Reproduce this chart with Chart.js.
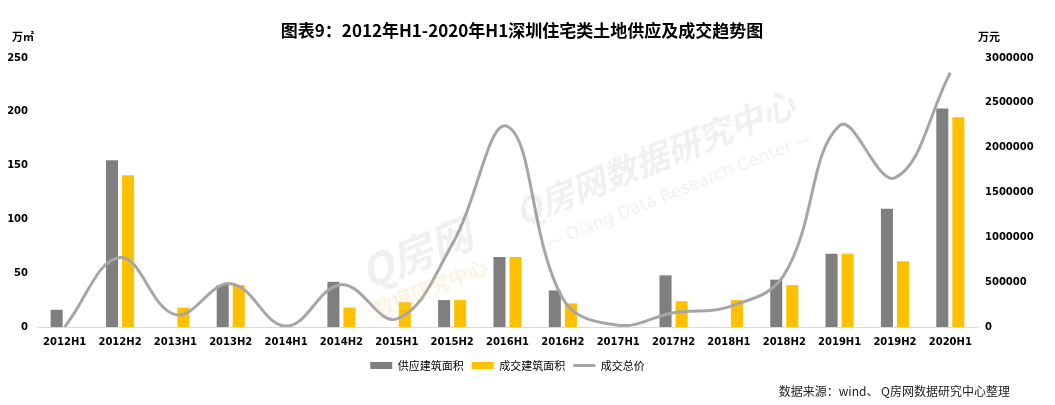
<!DOCTYPE html>
<html>
<head>
<meta charset="utf-8">
<script src="https://cdn.jsdelivr.net/npm/chart.js@4.4.1/dist/chart.umd.min.js"></script>
<style>
html,body{margin:0;padding:0;background:#fff;}
#wrap{width:1055px;height:405px;position:relative;}
</style>
</head>
<body>
<div id="wrap"><canvas id="c" width="1055" height="405"></canvas></div>
<script>
const categories = ['2012H1','2012H2','2013H1','2013H2','2014H1','2014H2','2015H1','2015H2','2016H1','2016H2','2017H1','2017H2','2018H1','2018H2','2019H1','2019H2','2020H1'];
const supplyArea = [16, 155, 0, 39, 0, 42, 0, 25, 65, 34, 0, 48, 0, 44, 68, 110, 203];
const dealArea = [0, 141, 18, 39, 0, 18, 23, 25, 65, 22, 0, 24, 25, 39, 68, 61, 195];
const dealTotal = [0, 775000, 138000, 483000, 10000, 472000, 90000, 921000, 2236000, 315000, 20000, 160000, 225000, 584000, 2247000, 1663000, 2835000];
const leftTicks = [0, 50, 100, 150, 200, 250];
const rightTicks = [0, 500000, 1000000, 1500000, 2000000, 2500000, 3000000];
const seriesNames = ['供应建筑面积', '成交建筑面积', '成交总价'];
const titleText = '图表9：2012年H1-2020年H1深圳住宅类土地供应及成交趋势图';
const sourceText = '数据来源：wind、 Q房网数据研究中心整理';

const CJK = '"Noto Sans CJK SC", "Noto Sans", sans-serif';
const TICKF = '"DejaVu Sans", sans-serif';

const decor = {
  id: 'decor',
  afterDatasetsDraw(chart) {
    const ctx = chart.ctx;
    ctx.save();
    ctx.translate(655, 158);
    ctx.rotate(-22 * Math.PI / 180);
    ctx.textAlign = 'center';
    ctx.textBaseline = 'middle';
    ctx.fillStyle = 'rgba(150,150,150,0.14)';
    ctx.font = 'bold italic 34px ' + CJK;
    ctx.fillText('Q房网数据研究中心', 0, 0);
    ctx.font = '17px ' + TICKF;
    ctx.fillText('— Qiang Data Research Center —', 10, 40);
    ctx.restore();
    ctx.save();
    ctx.translate(420, 262);
    ctx.rotate(-22 * Math.PI / 180);
    ctx.textAlign = 'center';
    ctx.textBaseline = 'middle';
    ctx.fillStyle = 'rgba(150,150,150,0.14)';
    ctx.font = 'bold italic 42px ' + CJK;
    ctx.fillText('Q房网', 0, -10);
    ctx.fillStyle = 'rgba(230,200,120,0.22)';
    ctx.font = 'bold 20px ' + CJK;
    ctx.fillText('数据研究中心', 0, 28);
    ctx.restore();
  },
  afterDraw(chart) {
    const ctx = chart.ctx;
    ctx.save();
    ctx.fillStyle = '#000';
    ctx.textBaseline = 'middle';
    ctx.textAlign = 'center';
    ctx.font = 'bold 17px ' + CJK;
    ctx.fillText(titleText, 522, 31);
    ctx.font = 'bold 11px ' + CJK;
    ctx.textAlign = 'left';
    ctx.fillText('万㎡', 12, 37);
    ctx.fillText('万元', 978, 37);
    ctx.font = '12px ' + CJK;
    ctx.textAlign = 'right';
    ctx.fillStyle = '#222';
    ctx.fillText(sourceText, 1010, 391);
    ctx.restore();
  }
};

new Chart(document.getElementById('c'), {
  data: {
    labels: categories,
    datasets: [
      { type: 'line', label: seriesNames[2], data: dealTotal, yAxisID: 'y1',
        borderColor: '#a6a6a6', backgroundColor: '#a6a6a6', borderWidth: 3,
        pointRadius: 0, tension: 0.4, fill: false, order: 0 },
      { type: 'bar', label: seriesNames[0], data: supplyArea, yAxisID: 'y',
        backgroundColor: '#7f7f7f', categoryPercentage: 0.58, barPercentage: 0.75, order: 1 },
      { type: 'bar', label: seriesNames[1], data: dealArea, yAxisID: 'y',
        backgroundColor: '#ffc000', categoryPercentage: 0.58, barPercentage: 0.75, order: 1 }
    ]
  },
  options: {
    responsive: false,
    animation: false,
    layout: { padding: { top: 58, left: 0, right: 0, bottom: 24 } },
    elements: { line: { capBezierPoints: false } },
    plugins: {
      title: { display: false },
      tooltip: { enabled: false },
      legend: {
        position: 'bottom',
        fullSize: false,
        labels: {
          usePointStyle: true,
          pointStyleWidth: 22,
          boxHeight: 7,
          padding: 8,
          color: '#000',
          font: { family: CJK, size: 11 },
          sort: (a, b) => {
            const rank = [2, 0, 1];
            return rank[a.datasetIndex] - rank[b.datasetIndex];
          },
          generateLabels(chart) {
            const items = Chart.defaults.plugins.legend.labels.generateLabels(chart);
            return items.map(it => {
              if (it.datasetIndex === 0) {
                it.pointStyle = 'line'; it.lineWidth = 3; it.strokeStyle = '#a6a6a6';
              } else {
                it.pointStyle = 'rect'; it.lineWidth = 0; it.strokeStyle = 'rgba(0,0,0,0)';
              }
              return it;
            });
          }
        }
      }
    },
    scales: {
      x: {
        grid: { display: false, drawTicks: false },
        border: { display: true, color: '#d9d9d9', width: 1 },
        ticks: { color: '#000', font: { family: TICKF, size: 10, weight: 'bold' }, padding: 9, maxRotation: 0, autoSkip: false },
        afterFit(s) { s.height = 25; }
      },
      y: {
        position: 'left',
        min: 0, max: 250,
        grid: { display: false, drawTicks: false },
        border: { display: false },
        afterBuildTicks(s) { s.ticks = leftTicks.map(v => ({ value: v })); },
        ticks: { color: '#000', font: { family: TICKF, size: 10, weight: 'bold' }, padding: 9 },
        afterFit(s) { s.width = 37; }
      },
      y1: {
        position: 'right',
        min: 0, max: 3000000,
        grid: { display: false, drawTicks: false },
        border: { display: false },
        afterBuildTicks(s) { s.ticks = rightTicks.map(v => ({ value: v })); },
        ticks: { color: '#000', font: { family: TICKF, size: 10, weight: 'bold' }, padding: 7, callback: v => String(v) },
        afterFit(s) { s.width = 77; }
      }
    }
  },
  plugins: [decor]
});
</script>
</body>
</html>
